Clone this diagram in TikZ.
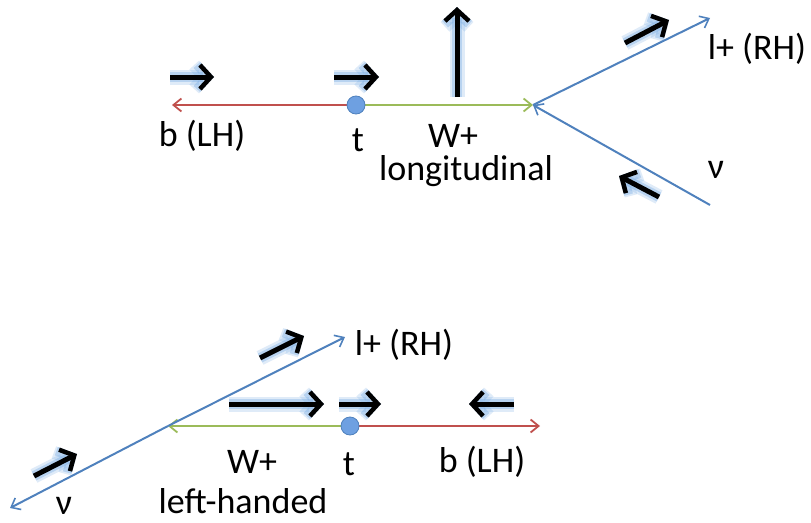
\documentclass[tikz,border=0pt]{standalone}
\usepackage{fontspec}
\setmainfont{Carlito}
\usetikzlibrary{arrows.meta}
\definecolor{pblue}{RGB}{79,129,189}
\definecolor{pred}{RGB}{192,80,77}
\definecolor{pgreen}{RGB}{155,187,89}
\definecolor{glowc}{RGB}{110,165,225}
\definecolor{dotfill}{RGB}{110,160,225}
\tikzset{
  lbl/.style={font=\fontsize{36}{40}\selectfont, inner sep=0pt},
  blueline/.style={draw=pblue, line width=2pt, -{Straight Barb[length=8pt,width=13pt,line width=1.6pt]}},
  redline/.style={draw=pred, line width=2.4pt, -{Straight Barb[length=8pt,width=13pt,line width=1.8pt]}},
  greenline/.style={draw=pgreen, line width=2.4pt, -{Straight Barb[length=8pt,width=13pt,line width=1.8pt]}},
  spin/.style={draw=black, line width=5pt, -{Straight Barb[length=11pt,width=24pt,line width=4.5pt]},
    preaction={draw=glowc, opacity=0.22, line width=15pt, -{Straight Barb[length=11pt,width=24pt,line width=13pt]}},
    preaction={draw=glowc, opacity=0.35, line width=10pt, -{Straight Barb[length=11pt,width=24pt,line width=9pt]}}},
  dot/.style={circle, fill=dotfill, draw=pblue, line width=0.8pt, minimum size=18pt, inner sep=0pt}
}
\begin{document}
\begin{tikzpicture}[x=1pt,y=-1pt]
\useasboundingbox (0,0) rectangle (811,522);
% ---------- top diagram ----------
\coordinate (b1) at (172,105);
\coordinate (v1) at (533,105);
\coordinate (l1) at (710,18);
\coordinate (n1) at (710,205);
\draw[redline] (356,105) -- (b1);
\draw[greenline] (356,105) -- (v1);
\draw[blueline] (v1) -- (l1);
\draw[blueline] (n1) -- (v1);
\node[dot] (t1) at (356,105) {};
% spins
\coordinate (s1a) at (170,77); \coordinate (s1b) at (214,77);
\coordinate (s2a) at (334,77); \coordinate (s2b) at (379,77);
\coordinate (s3a) at (457,97); \coordinate (s3b) at (457,7);
\coordinate (s4a) at (625,43); \coordinate (s4b) at (669,20);
\coordinate (s5a) at (659,197); \coordinate (s5b) at (619,176);
\draw[spin] (s1a) -- (s1b);
\draw[spin] (s2a) -- (s2b);
\draw[spin] (s3a) -- (s3b);
\draw[spin] (s4a) -- (s4b);
\draw[spin] (s5a) -- (s5b);
% labels
\node[lbl] (lb1) at (202,136) {b (LH)};
\node[lbl] (lt1) at (358,140) {t};
\node[lbl] (lw1) at (453,136) {W+};
\node[lbl] (llong) at (466,171) {longitudinal};
\node[lbl] (ll1) at (757,49) {l+ (RH)};
\node[lbl] (ln1) at (716,170) {ν};
% ---------- bottom diagram ----------
\coordinate (b2) at (540,426);
\coordinate (v2) at (168,426);
\coordinate (l2) at (345,337);
\coordinate (n2) at (10,508);
\draw[redline] (350,426) -- (b2);
\draw[greenline] (350,426) -- (v2);
\draw[blueline] (v2) -- (l2);
\draw[blueline] (v2) -- (n2);
\node[dot] (t2) at (350,426) {};
\coordinate (s6a) at (260,358); \coordinate (s6b) at (304,336);
\coordinate (s7a) at (229,404); \coordinate (s7b) at (324,404);
\coordinate (s8a) at (339,404); \coordinate (s8b) at (381,404);
\coordinate (s9a) at (514,404); \coordinate (s9b) at (469,404);
\coordinate (s10a) at (34,476); \coordinate (s10b) at (77,454);
\draw[spin] (s6a) -- (s6b);
\draw[spin] (s7a) -- (s7b);
\draw[spin] (s8a) -- (s8b);
\draw[spin] (s9a) -- (s9b);
\draw[spin] (s10a) -- (s10b);
\node[lbl] (ll2) at (404,345) {l+ (RH)};
\node[lbl] (lw2) at (252,462) {W+};
\node[lbl] (lt2) at (349,464) {t};
\node[lbl] (lb2) at (482,462) {b (LH)};
\node[lbl] (ln2) at (64,506) {ν};
\node[lbl] (lleft) at (243,501) {left-handed};
\end{tikzpicture}
\end{document}
